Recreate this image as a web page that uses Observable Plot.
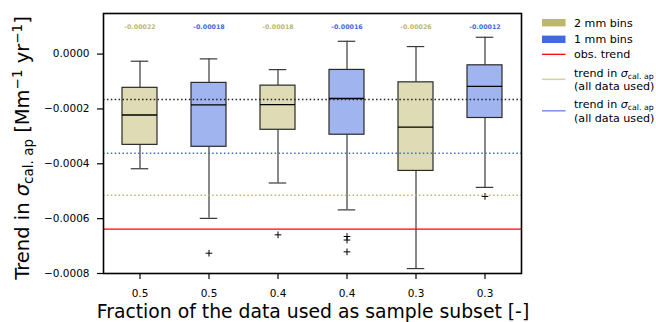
<!DOCTYPE html>
<html>
<head>
<meta charset="utf-8">
<script src="https://cdn.jsdelivr.net/npm/d3@7"></script>
<script src="https://cdn.jsdelivr.net/npm/@observablehq/plot@0.6"></script>
<style>
  body { margin: 0; background: white; }
  #chart { position: relative; width: 656px; height: 322px; }
</style>
</head>
<body>
<div id="chart"></div>
<script>
// ---- data ----
const fractions   = ["0.5", "0.5", "0.4", "0.4", "0.3", "0.3"];
const binSizes    = ["2 mm", "1 mm", "2 mm", "1 mm", "2 mm", "1 mm"];
const whiskerHigh = [-0.000026, -0.0000175, -0.0000566, 0.0000467, 0.0000274, 0.0000613];
const q3          = [-0.000123, -0.000105, -0.000115, -0.0000577, -0.000103, -0.0000409];
const medians     = [-0.000222, -0.000185, -0.000184, -0.000162, -0.000266, -0.0001175];
const q1          = [-0.000331, -0.000338, -0.000276, -0.000294, -0.000426, -0.000233];
const whiskerLow  = [-0.000418, -0.000599, -0.000470, -0.000568, -0.000782, -0.000486];
const medianLabels = ["-0.00022", "-0.00018", "-0.00018", "-0.00016", "-0.00026", "-0.00012"];
const outlierBox   = [1, 2, 3, 3, 3, 5];
const outlierValue = [-0.000726, -0.000659, -0.000665, -0.000678, -0.000721, -0.000519];
const obsTrend      = -0.000638;
const trendAll2mm   = -0.000515;
const trendAll1mm   = -0.000362;
const medianOfMedians = -0.000166;
const yTicks = [-0.0008, -0.0006, -0.0004, -0.0002, 0];

const colors = {"2 mm": "#bdb76b", "1 mm": "#4169e1"};
const fills  = {"2 mm": "#dedbb5", "1 mm": "#a0b4f0"};

const boxes = fractions.map((f, i) => ({
  key: String(i), fraction: f, bin: binSizes[i],
  hi: whiskerHigh[i], q3: q3[i], med: medians[i], q1: q1[i], lo: whiskerLow[i],
  label: medianLabels[i]
}));
const outliers = outlierBox.map((b, i) => ({key: String(b), v: outlierValue[i]}));

const chart = Plot.plot({
  width: 656,
  height: 322,
  marginLeft: 103,
  marginRight: 135,
  marginTop: 13,
  marginBottom: 49,
  style: {fontFamily: "DejaVu Sans", fontSize: "10.5px", color: "black", background: "white"},
  x: {type: "band", domain: boxes.map(d => d.key), paddingInner: 0.496, paddingOuter: 0.255, align: 0.5},
  y: {domain: [-0.0008, 0.000148]},
  marks: [
    Plot.axisY({ticks: yTicks, tickFormat: d3.format(".4f"), tickSize: 6, tickPadding: 8, strokeWidth: 1.2, label: null}),
    Plot.axisX({tickFormat: k => fractions[+k], tickSize: 6, tickPadding: 10, strokeWidth: 1.2, label: null}),
    // whiskers
    Plot.ruleX(boxes, {x: "key", y1: "q3", y2: "hi", stroke: "#3a3a3a", strokeWidth: 1.2}),
    Plot.ruleX(boxes, {x: "key", y1: "q1", y2: "lo", stroke: "#3a3a3a", strokeWidth: 1.2}),
    Plot.tickY(boxes, {x: "key", y: "hi", stroke: "#3a3a3a", strokeWidth: 1.2, insetLeft: 8.75, insetRight: 8.75}),
    Plot.tickY(boxes, {x: "key", y: "lo", stroke: "#3a3a3a", strokeWidth: 1.2, insetLeft: 8.75, insetRight: 8.75}),
    // boxes
    Plot.barY(boxes, {x: "key", y1: "q1", y2: "q3", fill: d => fills[d.bin], stroke: "#2a2a2a", strokeWidth: 1.2}),
    Plot.tickY(boxes, {x: "key", y: "med", stroke: "black", strokeWidth: 1.3}),
    // outliers
    Plot.dot(outliers, {x: "key", y: "v", symbol: "plus", r: 2.3, stroke: "black", strokeWidth: 1}),
    // reference lines
    Plot.ruleY([medianOfMedians], {stroke: "#222", strokeWidth: 1.5, strokeDasharray: "1.5,2.4"}),
    Plot.ruleY([trendAll1mm], {stroke: "#4169e1", strokeWidth: 1.5, strokeDasharray: "1.5,2.4"}),
    Plot.ruleY([trendAll2mm], {stroke: "#bdb76b", strokeWidth: 1.5, strokeDasharray: "1.5,2.4"}),
    Plot.ruleY([obsTrend], {stroke: "#ff0000", strokeWidth: 1.3}),
    // median annotations
    Plot.text(boxes, {x: "key", text: "label", frameAnchor: "top", dy: 11, fill: d => colors[d.bin], fontWeight: "bold", fontSize: 6.3}),
    Plot.frame({stroke: "black", strokeWidth: 1.6})
  ]
});

document.getElementById("chart").appendChild(chart);

const svg = d3.select(chart);
const ff = "DejaVu Sans";

// y label
const yl = svg.append("text")
  .attr("transform", "translate(29,148) rotate(-90)")
  .attr("text-anchor", "middle")
  .attr("font-family", ff).attr("font-size", 19.5).attr("fill", "black");
yl.append("tspan").text("Trend in ");
yl.append("tspan").attr("font-style", "italic").text("σ");
yl.append("tspan").attr("font-size", 13.5).attr("dy", 4).text("cal. ap");
yl.append("tspan").attr("dy", -4).text(" [Mm");
yl.append("tspan").attr("font-size", 13.5).attr("dy", -7.5).text("−1");
yl.append("tspan").attr("dy", 7.5).text(" yr");
yl.append("tspan").attr("font-size", 13.5).attr("dy", -7.5).text("−1");
yl.append("tspan").attr("dy", 7.5).text("]");

// x label
svg.append("text")
  .attr("x", 313).attr("y", 318)
  .attr("text-anchor", "middle")
  .attr("font-family", ff).attr("font-size", 18.8).attr("fill", "black")
  .text("Fraction of the data used as sample subset [-]");

// legend
const lg = svg.append("g").attr("font-family", ff).attr("font-size", 11.1).attr("fill", "black").attr("text-anchor", "start");
const lx = 542, tx = 574;
function sigmaText(y, first) {
  const t = lg.append("text").attr("x", tx).attr("y", y).attr("dy", "0.35em");
  t.append("tspan").text(first);
  t.append("tspan").attr("font-style", "italic").text("σ");
  t.append("tspan").attr("font-size", 7.8).attr("dy", 2.5).text("cal. ap");
}
lg.append("rect").attr("x", lx).attr("y", 22.7 - 3.7).attr("width", 23.5).attr("height", 7.4).attr("fill", "#bdb76b");
lg.append("text").attr("x", tx).attr("y", 22.7).attr("dy", "0.35em").text("2 mm bins");
lg.append("rect").attr("x", lx).attr("y", 39.3 - 3.7).attr("width", 23.5).attr("height", 7.4).attr("fill", "#4169e1");
lg.append("text").attr("x", tx).attr("y", 39.3).attr("dy", "0.35em").text("1 mm bins");
lg.append("line").attr("x1", lx).attr("x2", lx + 23.5).attr("y1", 54.3).attr("y2", 54.3).attr("stroke", "#ff0000").attr("stroke-width", 1.3);
lg.append("text").attr("x", tx).attr("y", 54.3).attr("dy", "0.35em").text("obs. trend");
lg.append("line").attr("x1", lx).attr("x2", lx + 23.5).attr("y1", 79.3).attr("y2", 79.3).attr("stroke", "#d6d2a2").attr("stroke-width", 1.6);
sigmaText(72.7, "trend in ");
lg.append("text").attr("x", tx).attr("y", 86.5).attr("dy", "0.35em").text("(all data used)");
lg.append("line").attr("x1", lx).attr("x2", lx + 23.5).attr("y1", 110.8).attr("y2", 110.8).attr("stroke", "#7d98ea").attr("stroke-width", 1.6);
sigmaText(104, "trend in ");
lg.append("text").attr("x", tx).attr("y", 117.8).attr("dy", "0.35em").text("(all data used)");
</script>
</body>
</html>
